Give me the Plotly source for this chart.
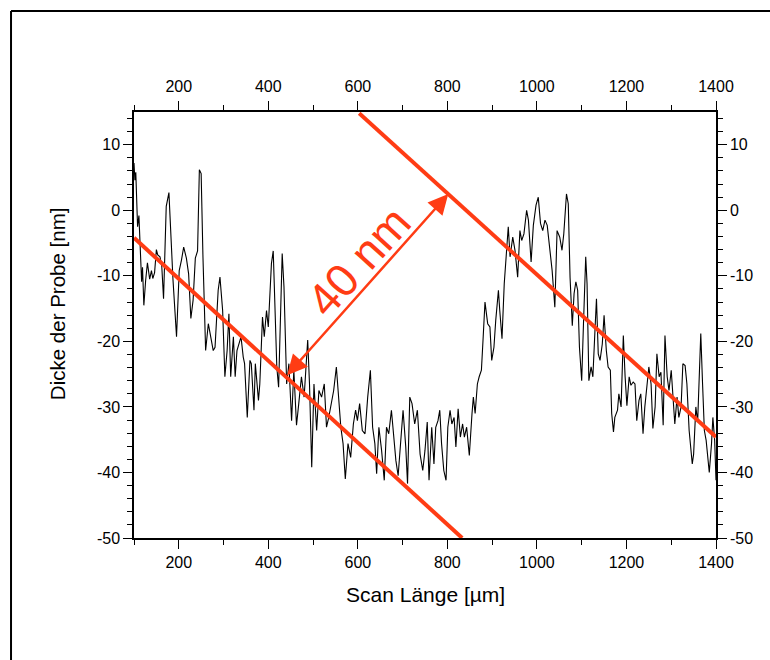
import plotly.graph_objects as go

# Surface profile: scan position (µm) and sample thickness (nm)
scan_um = [
    100, 102, 104, 108, 111, 117, 119, 122, 126, 130, 135, 139, 142, 146, 150, 153, 158, 162, 166, 172,
    178, 182, 187, 195, 201, 206, 211, 217, 222, 227, 232, 237, 242, 246, 250, 254, 260, 266, 271, 277,
    281, 288, 292, 298, 303, 308, 312, 316, 322, 326, 330, 339, 344, 347, 353, 359, 362, 368, 371, 378,
    381, 387, 391, 396, 400, 407, 411, 415, 419, 423, 427, 431, 435, 441, 446, 452, 457, 463, 468, 474,
    480, 488, 492, 497, 502, 508, 513, 519, 525, 530, 535, 541, 546, 552, 558, 562, 567, 572, 578, 584,
    590, 595, 599, 604, 610, 616, 622, 628, 633, 638, 642, 647, 653, 659, 664, 669, 675, 680, 685, 690,
    696, 701, 707, 711, 716, 721, 727, 733, 739, 745, 750, 755, 759, 765, 770, 774, 779, 783, 787, 792,
    797, 801, 806, 810, 815, 819, 824, 829, 834, 838, 843, 849, 855, 858, 862, 867, 871, 876, 880, 884,
    890, 895, 899, 904, 908, 914, 917, 922, 927, 931, 936, 940, 946, 951, 957, 962, 966, 971, 977, 981,
    987, 992, 998, 1003, 1008, 1013, 1018, 1023, 1029, 1034, 1040, 1045, 1051, 1056, 1060, 1066, 1070, 1074, 1079, 1083,
    1087, 1091, 1095, 1100, 1104, 1109, 1112, 1116, 1121, 1125, 1130, 1133, 1137, 1141, 1146, 1150, 1155, 1159, 1164, 1167,
    1171, 1174, 1180, 1183, 1188, 1193, 1197, 1201, 1206, 1210, 1215, 1219, 1223, 1228, 1232, 1237, 1241, 1246, 1250, 1255,
    1259, 1264, 1268, 1273, 1277, 1282, 1286, 1291, 1295, 1300, 1304, 1308, 1313, 1317, 1322, 1326, 1331, 1335, 1340, 1344,
    1347, 1350, 1355, 1359, 1363, 1366, 1370, 1374, 1378, 1381, 1385, 1390, 1393, 1397, 1400,
]
thickness_nm = [
    7.2, 4.6, 5.8, -2.5, -0.8, -10.9, -8.7, -14.5, -10.7, -8.0, -10.5, -9.2, -10.4, -9.5, -6.0, -6.8, -7.1, -8.5, -13.5, 0.6,
    2.7, -3.3, -10.5, -19.3, -9.2, -7.6, -5.6, -7.3, -9.7, -16.5, -13.7, -7.3, -6.2, 6.2, 5.6, -7.0, -21.4, -17.3, -19.3, -21.4,
    -20.9, -12.2, -10.2, -15.3, -25.4, -21.4, -15.8, -25.4, -19.3, -25.4, -21.4, -19.3, -22.4, -23.4, -31.6, -22.9, -23.4, -30.5, -23.4, -29.0,
    -26.5, -16.3, -19.3, -15.3, -17.8, -8.1, -6.2, -15.3, -23.9, -27.0, -18.0, -6.6, -11.7, -26.5, -23.4, -32.1, -24.4, -32.8, -29.5, -25.4,
    -28.5, -19.8, -26.5, -39.2, -26.5, -33.6, -27.5, -28.5, -26.5, -33.1, -31.6, -29.5, -27.5, -23.9, -29.5, -33.1, -35.6, -41.0, -35.6, -37.7,
    -32.6, -30.5, -32.1, -29.5, -33.6, -34.1, -28.5, -24.4, -33.1, -35.6, -40.2, -33.1, -36.6, -41.2, -33.1, -34.1, -30.5, -35.1, -38.2, -40.5,
    -34.1, -30.5, -36.1, -41.7, -28.5, -29.5, -32.6, -30.5, -37.2, -39.7, -36.6, -32.3, -41.2, -33.1, -38.7, -33.1, -32.1, -30.5, -35.6, -39.7,
    -41.2, -33.1, -30.5, -32.6, -31.6, -36.1, -30.3, -34.6, -32.6, -34.6, -33.1, -37.4, -31.0, -28.5, -31.0, -26.5, -25.4, -24.4, -19.3, -14.0,
    -17.3, -17.8, -22.9, -20.9, -16.8, -12.2, -15.3, -19.6, -11.2, -7.1, -2.5, -7.1, -4.1, -6.1, -10.2, -3.1, -4.6, -3.6, 0.0, -1.5,
    -7.9, -2.3, 0.8, 2.0, -2.0, -3.1, -1.5, -2.3, -6.1, -9.2, -14.8, -3.1, -4.1, -6.1, -3.6, 2.5, 1.0, -10.2, -17.6, -12.7,
    -10.9, -12.2, -20.9, -26.0, -17.3, -7.1, -11.2, -26.0, -23.9, -25.4, -17.8, -13.5, -21.9, -22.9, -20.4, -16.0, -21.4, -23.9, -24.4, -31.0,
    -33.8, -31.6, -30.5, -28.0, -30.0, -19.1, -25.4, -29.8, -25.4, -26.7, -26.2, -26.5, -32.1, -29.0, -28.0, -34.1, -30.0, -26.0, -23.9, -26.5,
    -33.3, -30.0, -21.9, -25.4, -24.7, -32.8, -19.1, -25.4, -27.5, -24.4, -29.0, -32.6, -28.5, -31.6, -30.0, -23.4, -23.7, -26.5, -33.6, -36.6,
    -38.7, -37.2, -30.0, -32.3, -22.9, -18.8, -26.5, -33.6, -35.1, -37.7, -40.0, -35.6, -31.6, -35.1, -41.2,
]

# Two parallel guide lines along the slope
lower_line_x = [100, 833]
lower_line_y = [-4.2, -50.0]
upper_line_x = [603, 1400]
upper_line_y = [14.8, -34.6]

# Distance arrow between the guide lines
arrow_start = (439, -25.38)
arrow_end = (802, 2.47)
arrow_label = "40 nm"
label_pos = (603, -7.8)

x_ticks = [200, 400, 600, 800, 1000, 1200, 1400]
x_tick_text = ["200", "400", "600", "800", "1000", "1200", "1400"]
x_minor = [100, 300, 500, 700, 900, 1100, 1300]
y_ticks = [-50, -40, -30, -20, -10, 0, 10]
y_tick_text = ["-50", "-40", "-30", "-20", "-10", "0", "10"]
y_minor = [v for v in range(-48, 15, 2) if v % 10 != 0]

RED = "#ff3c14"
FONT = "Liberation Sans, Arial, Helvetica, sans-serif"

fig = go.Figure()

fig.add_trace(go.Scatter(
    x=scan_um, y=thickness_nm, mode="lines",
    line=dict(color="black", width=1.1),
    showlegend=False, hoverinfo="skip",
))
fig.add_trace(go.Scatter(
    x=lower_line_x, y=lower_line_y, mode="lines",
    line=dict(color=RED, width=4), showlegend=False, hoverinfo="skip",
))
fig.add_trace(go.Scatter(
    x=upper_line_x, y=upper_line_y, mode="lines",
    line=dict(color=RED, width=4), showlegend=False, hoverinfo="skip",
))
# invisible trace so the mirrored top/right axes are drawn
fig.add_trace(go.Scatter(
    x=[100, 1400], y=[-50, 15], xaxis="x2", yaxis="y2", mode="markers",
    marker=dict(opacity=0), showlegend=False, hoverinfo="skip",
))

tick_font = dict(family=FONT, size=16, color="black")
common = dict(
    showline=True, linecolor="black", linewidth=1.5,
    ticks="outside", ticklen=9, tickwidth=1.4, tickcolor="black",
    showgrid=False, zeroline=False, tickfont=tick_font,
)
x_minor_style = dict(tickvals=x_minor, ticks="outside", ticklen=5,
                     tickwidth=1.2, tickcolor="black", showgrid=False)
y_minor_style = dict(tickvals=y_minor, ticks="outside", ticklen=5,
                     tickwidth=1.2, tickcolor="black", showgrid=False)

fig.update_layout(
    width=770, height=660,
    margin=dict(l=134, r=54, t=112, b=122),
    paper_bgcolor="white", plot_bgcolor="white",
    xaxis=dict(range=[100, 1400], tickvals=x_ticks, ticktext=x_tick_text,
               minor=x_minor_style, **common),
    xaxis2=dict(range=[100, 1400], tickvals=x_ticks, ticktext=x_tick_text,
                overlaying="x", side="top", anchor="y", ticklabelstandoff=3,
                minor=x_minor_style, **common),
    yaxis=dict(range=[-50, 15], tickvals=y_ticks, ticktext=y_tick_text,
               minor=y_minor_style, **common),
    yaxis2=dict(range=[-50, 15], tickvals=y_ticks, ticktext=y_tick_text,
                overlaying="y", side="right", anchor="x",
                minor=y_minor_style, **common),
)

# Outer frame (top and left edges visible)
fig.add_shape(type="line", xref="paper", yref="paper",
              x0=-0.2113, y0=1.237, x1=1.2, y1=1.237,
              line=dict(color="black", width=2))
fig.add_shape(type="line", xref="paper", yref="paper",
              x0=-0.2113, y0=1.237, x1=-0.2113, y1=-0.35,
              line=dict(color="black", width=2))

# Axis titles
fig.add_annotation(text="Scan Länge [µm]", xref="paper", yref="paper",
                   x=0.5, y=-0.1315, xanchor="center", yanchor="middle",
                   showarrow=False, font=dict(family=FONT, size=21, color="black"))
fig.add_annotation(text="Dicke der Probe [nm]", xref="paper", yref="paper",
                   x=-0.1323, y=0.549, xanchor="center", yanchor="middle",
                   textangle=-90, showarrow=False,
                   font=dict(family=FONT, size=20.5, color="black"))

# Double-headed distance arrow
fig.add_annotation(x=arrow_end[0], y=arrow_end[1], ax=arrow_start[0], ay=arrow_start[1],
                   xref="x", yref="y", axref="x", ayref="y", text="",
                   showarrow=True, arrowside="end+start", arrowhead=2, startarrowhead=2,
                   arrowsize=1.6, startarrowsize=1.6, arrowwidth=2.5, arrowcolor=RED,
                   standoff=0, startstandoff=0)
fig.add_annotation(x=label_pos[0], y=label_pos[1], xref="x", yref="y", text=arrow_label,
                   showarrow=False, textangle=-48,
                   font=dict(family=FONT, size=46, color=RED))

fig.write_html("out.html")
